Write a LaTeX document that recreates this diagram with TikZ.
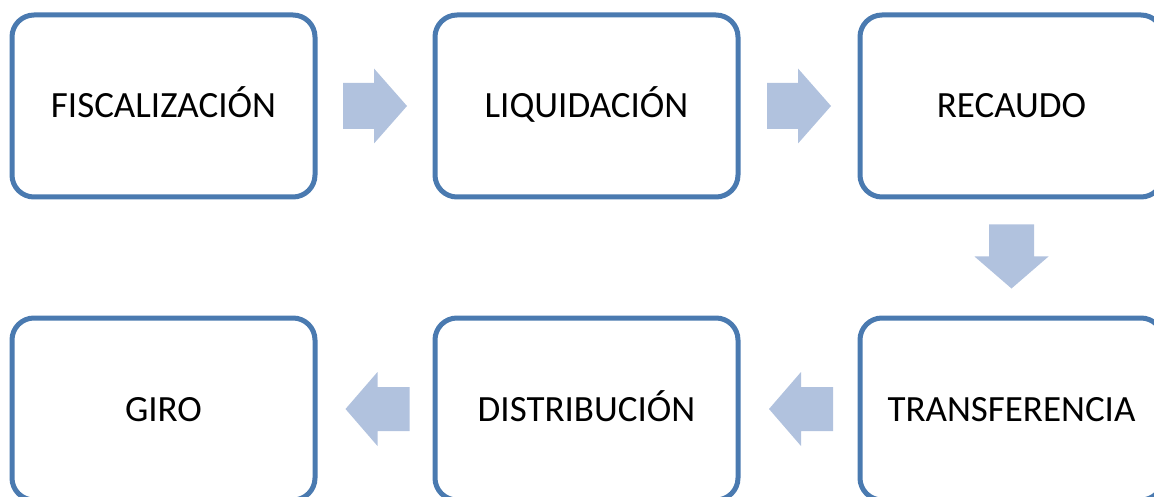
\documentclass[tikz,border=0pt]{standalone}
\usepackage{fontspec}
\setmainfont{Carlito}
\usetikzlibrary{calc}
\begin{document}
\begin{tikzpicture}[x=1pt,y=-1pt,
  box/.style={draw=boxblue, line width=5pt, fill=white, rounded corners=22pt,
    minimum width=303pt, minimum height=182pt, inner sep=0pt,
    text height=24pt, text depth=0pt,
    font=\fontsize{37}{44}\selectfont, text=black},
  arrowfill/.style={fill=arrowblue, draw=none}]
\definecolor{boxblue}{RGB}{74,122,176}
\definecolor{arrowblue}{RGB}{177,194,222}
\useasboundingbox (0,0) rectangle (1154,497);
\clip (0,0) rectangle (1154,497);
\node[box] (f) at (163.5,106) {FISCALIZACIÓN};
\node[box] (l) at (586.5,106) {LIQUIDACIÓN};
\node[box] (r) at (1011.5,106) {RECAUDO};
\node[box] (t) at (1011.5,409) {TRANSFERENCIA};
\node[box] (d) at (586.5,409) {DISTRIBUCIÓN};
\node[box] (g) at (163.5,409) {GIRO};
% block arrows
\path (f.east) -- (l.west) coordinate[midway] (a1);
\path (l.east) -- (r.west) coordinate[midway] (a2);
\path (r.south) -- (t.north) coordinate[midway] (a3);
\path (t.west) -- (d.east) coordinate[midway] (a4);
\path (d.west) -- (g.east) coordinate[midway] (a5);
\fill[arrowfill, shift={(a1)}] (-32,-23) -- (-1,-23) -- (-1,-37.5) -- (32,0) -- (-1,37.5) -- (-1,23) -- (-32,23) -- cycle;
\fill[arrowfill, shift={(a2)}] (-32,-23) -- (-1,-23) -- (-1,-37.5) -- (32,0) -- (-1,37.5) -- (-1,23) -- (-32,23) -- cycle;
\fill[arrowfill, shift={(a3)}] (-22.5,-33) -- (22.5,-33) -- (22.5,-1) -- (37,-1) -- (0,31) -- (-37,-1) -- (-22.5,-1) -- cycle;
\fill[arrowfill, shift={($(a4)+(2,0)$)}] (32,-22) -- (0,-22) -- (0,-37) -- (-32,0) -- (0,37) -- (0,22) -- (32,22) -- cycle;
\fill[arrowfill, shift={($(a5)+(2.5,0)$)}] (32,-22) -- (0,-22) -- (0,-37) -- (-32,0) -- (0,37) -- (0,22) -- (32,22) -- cycle;
\end{tikzpicture}
\end{document}
